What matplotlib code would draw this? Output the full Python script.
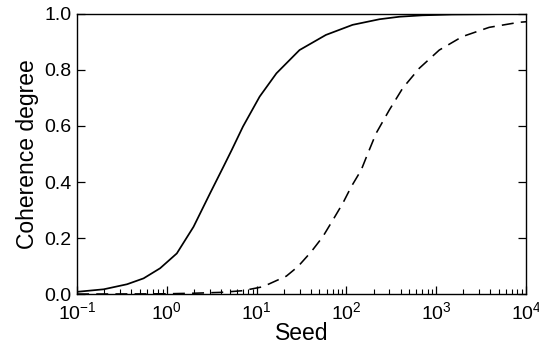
import matplotlib
matplotlib.use("Agg")
import matplotlib.pyplot as plt
from matplotlib.ticker import LogLocator, FixedLocator

plt.rcParams['font.family'] = ['Liberation Sans', 'DejaVu Sans']
plt.rcParams['mathtext.fontset'] = 'custom'
plt.rcParams['mathtext.rm'] = 'Liberation Sans'
plt.rcParams['mathtext.it'] = 'Liberation Sans:italic'
plt.rcParams['axes.unicode_minus'] = False

# solid curve
seed_solid = [0.1, 0.198, 0.36, 0.55, 0.84, 1.29, 1.98, 3.03, 4.27, 5.27, 7.04, 10.8,
              16.6, 30, 59, 117, 233, 390, 700, 1500, 4000, 10000]
coh_solid = [0.008, 0.017, 0.035, 0.056, 0.092, 0.145, 0.24, 0.36, 0.455, 0.514, 0.598, 0.705,
             0.788, 0.871, 0.925, 0.961, 0.981, 0.99, 0.995, 0.998, 0.999, 1.0]

# dashed curve
seed_dash = [0.1, 0.5, 1.0, 2.0, 4.0, 7.0, 11.7, 21.4, 28.8, 40.5, 54.6, 70.5, 91, 113,
             146, 173, 214, 300, 423, 647, 1080, 1950, 3880, 8300, 10000]
coh_dash = [0.0, 0.0005, 0.001, 0.003, 0.006, 0.012, 0.026, 0.064, 0.098, 0.151, 0.205, 0.264,
            0.324, 0.383, 0.443, 0.502, 0.574, 0.657, 0.735, 0.806, 0.871, 0.919, 0.952, 0.97, 0.972]

fig = plt.figure(figsize=(5.39, 3.48), dpi=100)
ax = fig.add_axes([0.143, 0.155, 0.833, 0.805])

ax.plot(seed_solid, coh_solid, color='black', lw=1.25, solid_joinstyle='round')
ax.plot(seed_dash, coh_dash, color='black', lw=1.15, linestyle=(0, (7.5, 4.5)))

ax.set_xscale('log')
ax.set_xlim(0.1, 1e4)
ax.set_ylim(0, 1)
ax.xaxis.set_major_locator(LogLocator(base=10, numticks=10))
ax.xaxis.set_minor_locator(LogLocator(base=10, subs=range(2, 10), numticks=20))
ax.yaxis.set_major_locator(FixedLocator([0, 0.2, 0.4, 0.6, 0.8, 1.0]))
ax.yaxis.set_major_formatter(plt.FormatStrFormatter('%.1f'))

ax.tick_params(axis='both', which='major', direction='in', length=6, width=0.9, labelsize=14)
ax.tick_params(axis='x', which='minor', direction='in', length=3.5, width=0.8)
ax.tick_params(axis='y', which='both', right=True, pad=4)
ax.tick_params(axis='x', which='both', top=False, pad=5)

for s in ax.spines.values():
    s.set_linewidth(1.0)

ax.set_xlabel('Seed', fontsize=16.5, labelpad=-1)
ax.set_ylabel('Coherence degree', fontsize=16.5, labelpad=4)

fig.savefig('out.png', dpi=100)
